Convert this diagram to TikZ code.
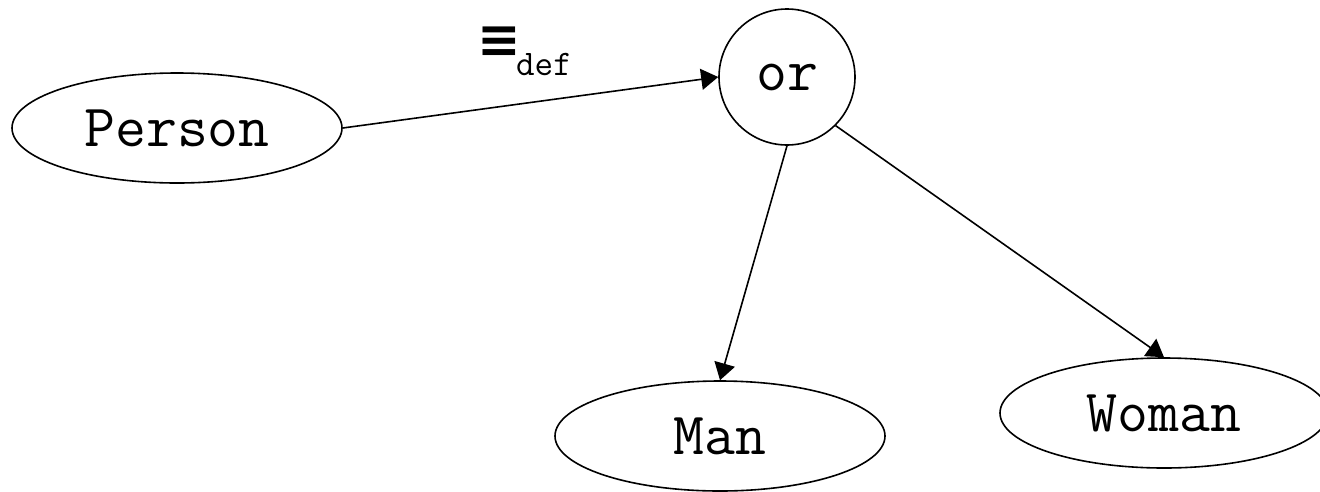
\documentclass[tikz,border=0pt]{standalone}
\usepackage{fontspec}
\newfontfamily\symfont{DejaVu Sans}
\usetikzlibrary{shapes.geometric,arrows.meta}
\tikzset{
  concept/.style={draw,ellipse,line width=1.6pt,inner sep=0pt,minimum width=330pt,minimum height=110pt,font=\fontsize{60}{60}\selectfont\ttfamily},
  opnode/.style={draw,circle,line width=1.6pt,inner sep=0pt,minimum size=136pt,font=\fontsize{60}{60}\selectfont\ttfamily},
  link/.style={line width=1.6pt,-{Triangle[length=17pt,width=21pt]}},
}
\begin{document}
\begin{tikzpicture}[x=1pt,y=-1pt]
\useasboundingbox (0,0) rectangle (1320,491);
\node[concept] (person) at (177,128) {Person};
\node[opnode] (or) at (787,77) {or};
\node[concept] (man) at (720,436) {Man};
\node[concept,minimum width=328pt] (woman) at (1164,413) {Woman};
\draw[link] (person.east) -- (or.west);
\draw[link] (or.south) -- (man.north);
\draw[link] (or.-45) -- (woman.north);
\node[font=\fontsize{52}{52}\selectfont\symfont\bfseries] (eq) at (499,42) {≡};
\node[font=\fontsize{36}{36}\selectfont\ttfamily] (def) at (544,64) {def};
\end{tikzpicture}
\end{document}
